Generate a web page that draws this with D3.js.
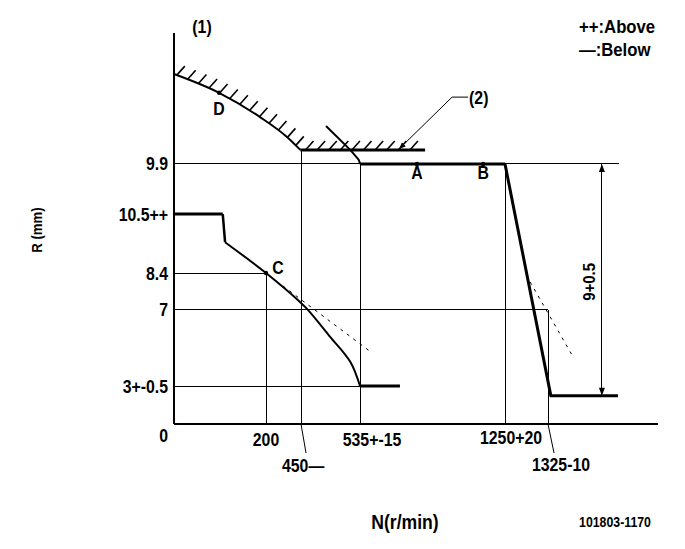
<!DOCTYPE html>
<html><head><meta charset="utf-8">
<script src="https://cdn.jsdelivr.net/npm/d3@7"></script>
<style>
body{margin:0;background:#fff}
text{font-family:"Liberation Sans",Arial,sans-serif;font-weight:bold;fill:#000}
</style>
</head><body>
<svg id="c" width="685" height="549"></svg>
<script>
// ---- data (speed N in r/min on a schematic, non-proportional axis; R as schematic drawing level 0-100) ----
const speedAnchors   = [0, 200, 450, 535, 1250, 1325];
const xTickSpeeds    = [200, 450, 535, 1250, 1325];
const xTickLabels    = ["200", "450\u2014", "535+-15", "1250+20", "1325-10"];
const yTickLevels    = [0, 9.7, 29.2, 38.6, 53.7, 66.5];
const yTickLabels    = ["0", "3+-0.5", "7", "8.4", "10.5++", "9.9"];
const gridEndSpeeds  = [null, 535, 1325, 200, null, 1449];   // horizontal reference line ends
const vLineSpeeds    = [200, 450, 535, 1250, 1325];
const vLineTopLevels = [38.6, 70.1, 66.5, 66.5, 29.2];

// (1) full-load limit boundary (hatched)
const limitN = [0, 98, 187, 350, 445];
const limitR = [89.5, 84.7, 78.5, 73.4, 70.1];
const stopN  = [445, 856];
const stopR  = [70.1, 70.1];

// start / droop / idle characteristic
const startN = [0, 106];         const startR = [53.7, 53.7];
const dropN  = [106, 111];       const dropR  = [53.7, 46.5];
const droopN = [111, 200, 443, 460, 492, 521, 535];
const droopR = [46.5, 38.6, 31.2, 29.2, 22.3, 15.9, 9.7];
const idleN  = [535, 732];       const idleR  = [9.7, 9.7];

// governor characteristic
const govN   = [486, 521, 533, 536];
const govR   = [76.2, 70.1, 67.6, 66.5];
const plateN = [536, 1250];      const plateR = [66.5, 66.5];
const fallN  = [1250, 1330, 1447];
const fallR  = [66.5, 7.2, 7.2];

// dashed tangent lines
const dash1N = [321, 589];       const dash1R = [35.3, 18.4];
const dash2N = [1294, 1369];     const dash2R = [36.3, 17.1];

// marked points
const pointLabels = ["A", "B", "C", "D"];
const pointN      = [816, 1142, 200, 98];
const pointR      = [66.5, 66.5, 38.6, 84.7];

// dimension
const dimSpeed = 1419, dimTop = 66.5, dimBottom = 7.2, dimLabel = "9+0.5";
const axisEndSpeed = 1517;

// ---- drawing ----
const svg = d3.select("#c");
const x = d3.scaleLinear().domain(speedAnchors).range([174, 266, 301, 360, 505, 548]);
const y = d3.scaleLinear().domain([0, 100]).range([424, 33]);
const pts = (N, R) => N.map((n, i) => [x(n), y(R[i])]);
const lin = d3.line();
const smooth = d3.line().curve(d3.curveMonotoneX);
const smooth2 = d3.line().curve(d3.curveCatmullRom.alpha(0.5));

function path(d, w, gen, extra) {
  const p = svg.append("path").attr("d", (gen || lin)(d)).attr("fill", "none")
    .attr("stroke", "#000").attr("stroke-width", w).attr("stroke-linejoin", "round");
  if (extra) extra(p);
  return p;
}
// condensed bold text helper
function txt(px, py, s, size, anchor, rot) {
  return svg.append("text")
    .attr("transform", `translate(${px},${py})` + (rot ? ` rotate(${rot})` : "") + " scale(0.88,1)")
    .attr("text-anchor", anchor || "middle").attr("dy", "0.36em").attr("font-size", size).text(s);
}

// axes
svg.append("line").attr("x1", x(0)).attr("x2", x(axisEndSpeed)).attr("y1", y(0)).attr("y2", y(0))
  .attr("stroke", "#000").attr("stroke-width", 1.2).attr("shape-rendering", "crispEdges");
svg.append("line").attr("x1", x(0)).attr("x2", x(0)).attr("y1", y(0)).attr("y2", y(100))
  .attr("stroke", "#000").attr("stroke-width", 1.2).attr("shape-rendering", "crispEdges");

// horizontal reference lines
yTickLevels.forEach((lv, i) => {
  if (gridEndSpeeds[i] == null) return;
  svg.append("line").attr("x1", x(0)).attr("x2", x(gridEndSpeeds[i])).attr("y1", y(lv)).attr("y2", y(lv))
    .attr("stroke", "#000").attr("stroke-width", 1).attr("shape-rendering", "crispEdges");
});
// vertical reference lines
vLineSpeeds.forEach((n, i) => {
  svg.append("line").attr("x1", x(n)).attr("x2", x(n)).attr("y1", y(vLineTopLevels[i])).attr("y2", y(0))
    .attr("stroke", "#000").attr("stroke-width", 1).attr("shape-rendering", "crispEdges");
});
// leaders below axis for 450 and 1325
path([[x(450), y(0)], [x(450) + 5, y(0) + 29]], 1);
path([[x(1325), y(0)], [x(1325) + 6, y(0) + 29]], 1);

// y tick labels
yTickLabels.forEach((t, i) => {
  const isZero = yTickLevels[i] === 0;
  txt(168, y(yTickLevels[i]) + (isZero ? 12 : 0), t, 18, "end");
});
// x tick labels
const xLabelDx = [0, -19, 12, 6, 13];
const xLabelDy = [16, 42, 16, 14, 41];
xTickLabels.forEach((t, i) => {
  txt(x(xTickSpeeds[i]) + xLabelDx[i], y(0) + xLabelDy[i], t, 18, i === 1 ? "start" : "middle");
});

// limit boundary with hatching
const limitPts = pts(limitN, limitR);
path(limitPts, 2, smooth);
const stopPts = pts(stopN, stopR);
path(stopPts, 3);
const hp = svg.append("path").attr("d", smooth(limitPts) + "L" + stopPts[1].join(",")).attr("fill", "none");
const L = hp.node().getTotalLength();
for (let s = 3; s < L - 4; s += 11.6) {
  const p = hp.node().getPointAtLength(s);
  path([[p.x, p.y], [p.x + 8, p.y - 9]], 1.6);
}
hp.remove();

// start / droop / idle
path(pts(startN, startR), 3);
path(pts(dropN, dropR), 2.5);
path(pts(droopN, droopR), 2, smooth2);
path(pts(idleN, idleR), 3);

// governor
path(pts(govN, govR), 2);
path(pts(plateN, plateR), 3);
path(pts(fallN, fallR), 3);

// dashed
path(pts(dash1N, dash1R), 1, null, p => p.attr("stroke-dasharray", "3,5"));
path(pts(dash2N, dash2R), 1, null, p => p.attr("stroke-dasharray", "3,5"));

// points
pointLabels.forEach((t, i) => {
  svg.append("circle").attr("cx", x(pointN[i])).attr("cy", y(pointR[i])).attr("r", 2.2).attr("fill", "#000");
});
const ptDx = [0, 0, 12, 0], ptDy = [9, 9, -6, 16];
pointLabels.forEach((t, i) => {
  txt(x(pointN[i]) + ptDx[i], y(pointR[i]) + ptDy[i], t, 18, "middle");
});

// dimension arrow
const dx = x(dimSpeed), dyT = y(dimTop), dyB = y(dimBottom);
svg.append("line").attr("x1", dx).attr("x2", dx).attr("y1", dyT).attr("y2", dyB)
  .attr("stroke", "#000").attr("stroke-width", 1).attr("shape-rendering", "crispEdges");
svg.append("path").attr("d", `M${dx},${dyT}L${dx - 3},${dyT + 8}L${dx + 3},${dyT + 8}Z`).attr("fill", "#000");
svg.append("path").attr("d", `M${dx},${dyB}L${dx - 3},${dyB - 8}L${dx + 3},${dyB - 8}Z`).attr("fill", "#000");
txt(dx - 13, (dyT + dyB) / 2 + 2, dimLabel, 17, "middle", -90);

// (2) leader
const tip = [x(727), y(70.3)];
svg.append("defs").append("marker").attr("id", "ah").attr("viewBox", "0 0 10 10").attr("refX", 10).attr("refY", 5)
  .attr("markerWidth", 7).attr("markerHeight", 7).attr("orient", "auto")
  .append("path").attr("d", "M0,1L10,5L0,9Z").attr("fill", "#000");
path([[x(1068), y(83.6)], [x(989), y(83.6)], tip], 1, null, p => p.attr("marker-end", "url(#ah)"));
txt(x(1068) + 1, y(83.6), "(2)", 18, "start");

// misc labels
txt(202, 27, "(1)", 18, "middle");
txt(579, 26, "++:Above", 19, "start");
txt(579, 49, "\u2014:Below", 19, "start");
txt(405, 522, "N(r/min)", 20, "middle");
txt(615, 522, "101803-1170", 14, "middle");
txt(37, 230, "R (mm)", 15, "middle", -90);
</script>
</body></html>
